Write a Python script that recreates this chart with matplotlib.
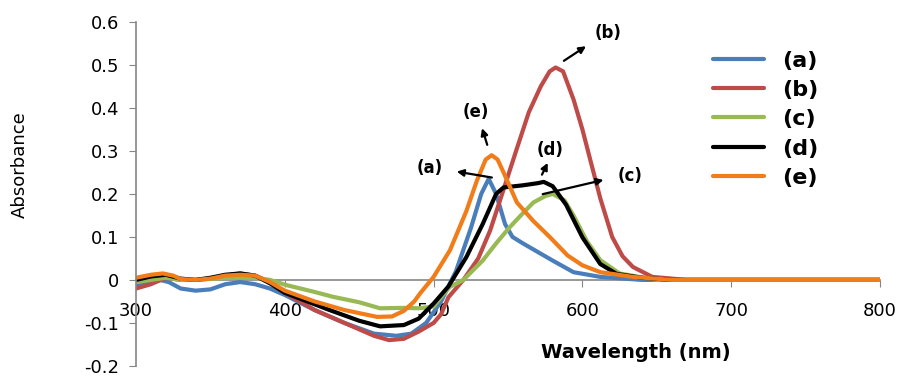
import numpy as np
import matplotlib.pyplot as plt

# wavelength (nm) / absorbance
wl_a = [300, 310, 316, 322, 330, 340, 350, 360, 370, 380, 390, 400, 420, 440, 460, 475, 485, 495, 505, 515, 525, 532, 537, 542, 548, 553, 560, 570, 580, 594, 612, 640, 700, 800]
abs_a = [-0.015, -0.005, 0.0, -0.005, -0.02, -0.025, -0.022, -0.01, -0.005, -0.01, -0.02, -0.035, -0.07, -0.1, -0.125, -0.13, -0.125, -0.1, -0.05, 0.02, 0.12, 0.2, 0.235, 0.2, 0.13, 0.1, 0.085, 0.065, 0.045, 0.018, 0.007, 0.0, 0.0, 0.0]

wl_b = [300, 310, 320, 330, 340, 350, 360, 370, 380, 390, 400, 420, 440, 460, 470, 480, 490, 500, 505, 510, 520, 530, 538, 547, 556, 564, 572, 578, 582, 587, 594, 600, 605, 612, 620, 627, 634, 647, 670, 800]
abs_b = [-0.02, -0.01, 0.005, 0.0, 0.0, 0.003, 0.01, 0.015, 0.01, -0.005, -0.03, -0.07, -0.1, -0.13, -0.14, -0.137, -0.12, -0.1, -0.08, -0.04, 0.0, 0.05, 0.115, 0.21, 0.306, 0.39, 0.45, 0.485, 0.494, 0.485, 0.42, 0.35, 0.283, 0.19, 0.1, 0.055, 0.03, 0.007, 0.0, 0.0]

wl_c = [300, 310, 320, 330, 340, 360, 380, 390, 401, 420, 432, 450, 464, 480, 490, 500, 505, 511, 520, 533, 542, 551, 560, 567, 575, 580, 588, 594, 603, 612, 625, 650, 800]
abs_c = [-0.005, 0.0, 0.005, 0.0, 0.0, 0.005, 0.005, 0.0, -0.012, -0.028, -0.039, -0.052, -0.066, -0.065, -0.066, -0.062, -0.04, -0.016, 0.0, 0.045, 0.085, 0.122, 0.155, 0.18, 0.195, 0.2, 0.185, 0.15, 0.09, 0.046, 0.015, 0.0, 0.0]

wl_d = [300, 310, 320, 330, 340, 350, 360, 370, 380, 390, 400, 430, 450, 464, 480, 490, 500, 510, 522, 533, 542, 547, 560, 570, 574, 580, 589, 600, 612, 623, 640, 660, 800]
abs_d = [0.0, 0.008, 0.012, 0.003, 0.0, 0.005, 0.012, 0.015, 0.01, -0.008, -0.03, -0.07, -0.095, -0.108, -0.105, -0.09, -0.055, -0.015, 0.053, 0.13, 0.2, 0.215, 0.22, 0.225, 0.228, 0.218, 0.175, 0.099, 0.037, 0.014, 0.005, 0.0, 0.0]

wl_e = [300, 310, 318, 325, 330, 340, 350, 360, 370, 380, 390, 400, 420, 440, 462, 472, 480, 487, 491, 500, 511, 522, 529, 535, 539, 543, 547, 556, 567, 578, 590, 600, 612, 634, 660, 800]
abs_e = [0.005, 0.012, 0.015, 0.01, 0.002, 0.0, 0.003, 0.01, 0.012, 0.01, -0.005, -0.025, -0.05, -0.07, -0.086, -0.085, -0.072, -0.05, -0.031, 0.007, 0.069, 0.16, 0.23, 0.28, 0.29, 0.28, 0.25, 0.18, 0.137, 0.1, 0.057, 0.034, 0.018, 0.007, 0.0, 0.0]

names = ['(a)', '(b)', '(c)', '(d)', '(e)']
colors = ['#4a7ebb', '#be4b48', '#98b954', '#000000', '#f07d1a']

fig = plt.figure(figsize=(9.02, 3.78), dpi=100)
ax = fig.add_axes([0.1508, 0.032, 0.8248, 0.910])

for x, y, n, c in zip([wl_a, wl_b, wl_c, wl_d, wl_e], [abs_a, abs_b, abs_c, abs_d, abs_e], names, colors):
    ax.plot(x, y, color=c, lw=3, label=n, solid_capstyle='round')

ax.set_xlim(300, 800)
ax.set_ylim(-0.2, 0.6)
ax.set_xticks([300, 400, 500, 600, 700, 800])
ax.set_yticks(np.arange(-0.2, 0.61, 0.1))
ax.set_yticklabels(['-0.2', '-0.1', '0', '0.1', '0.2', '0.3', '0.4', '0.5', '0.6'])

ax.spines['top'].set_visible(False)
ax.spines['right'].set_visible(False)
ax.spines['bottom'].set_position(('data', 0))
ax.spines['bottom'].set_zorder(0)
for s in ['left', 'bottom']:
    ax.spines[s].set_color('#868686')
    ax.spines[s].set_linewidth(1.2)
ax.tick_params(axis='y', direction='out', length=5, color='#868686', labelsize=13, pad=7)
ax.tick_params(axis='x', direction='out', length=5, color='#868686', labelsize=13, pad=11)

# arrows + labels
arr = dict(arrowstyle='-|>', color='black', lw=1.6, mutation_scale=10)
fs = 12
ax.annotate('', xy=(604, 0.547), xytext=(586, 0.506), arrowprops=arr)
ax.text(617, 0.575, '(b)', ha='center', va='center', fontsize=fs, fontweight='bold')
ax.annotate('', xy=(532, 0.359), xytext=(536.6, 0.308), arrowprops=arr)
ax.text(528.5, 0.39, '(e)', ha='center', va='center', fontsize=fs, fontweight='bold')
ax.annotate('', xy=(513.7, 0.253), xytext=(541, 0.237), arrowprops=arr)
ax.text(497.6, 0.26, '(a)', ha='center', va='center', fontsize=fs, fontweight='bold')
ax.annotate('', xy=(577.5, 0.278), xytext=(572, 0.239), arrowprops=arr)
ax.text(578, 0.303, '(d)', ha='center', va='center', fontsize=fs, fontweight='bold')
ax.annotate('', xy=(616, 0.234), xytext=(571.5, 0.198), arrowprops=arr)
ax.text(632, 0.241, '(c)', ha='center', va='center', fontsize=fs, fontweight='bold')

leg = ax.legend(loc='upper left', bbox_to_anchor=(0.749, 0.975), frameon=False,
                prop={'weight': 'bold', 'size': 16}, handlelength=2.3,
                handletextpad=0.8, labelspacing=0.42)

fig.text(0.705, 0.068, 'Wavelength (nm)', ha='center', va='center', fontsize=14, fontweight='bold')
fig.text(0.022, 0.565, 'Absorbance', ha='center', va='center', rotation=90, fontsize=13)

fig.savefig('out.png', dpi=100)
